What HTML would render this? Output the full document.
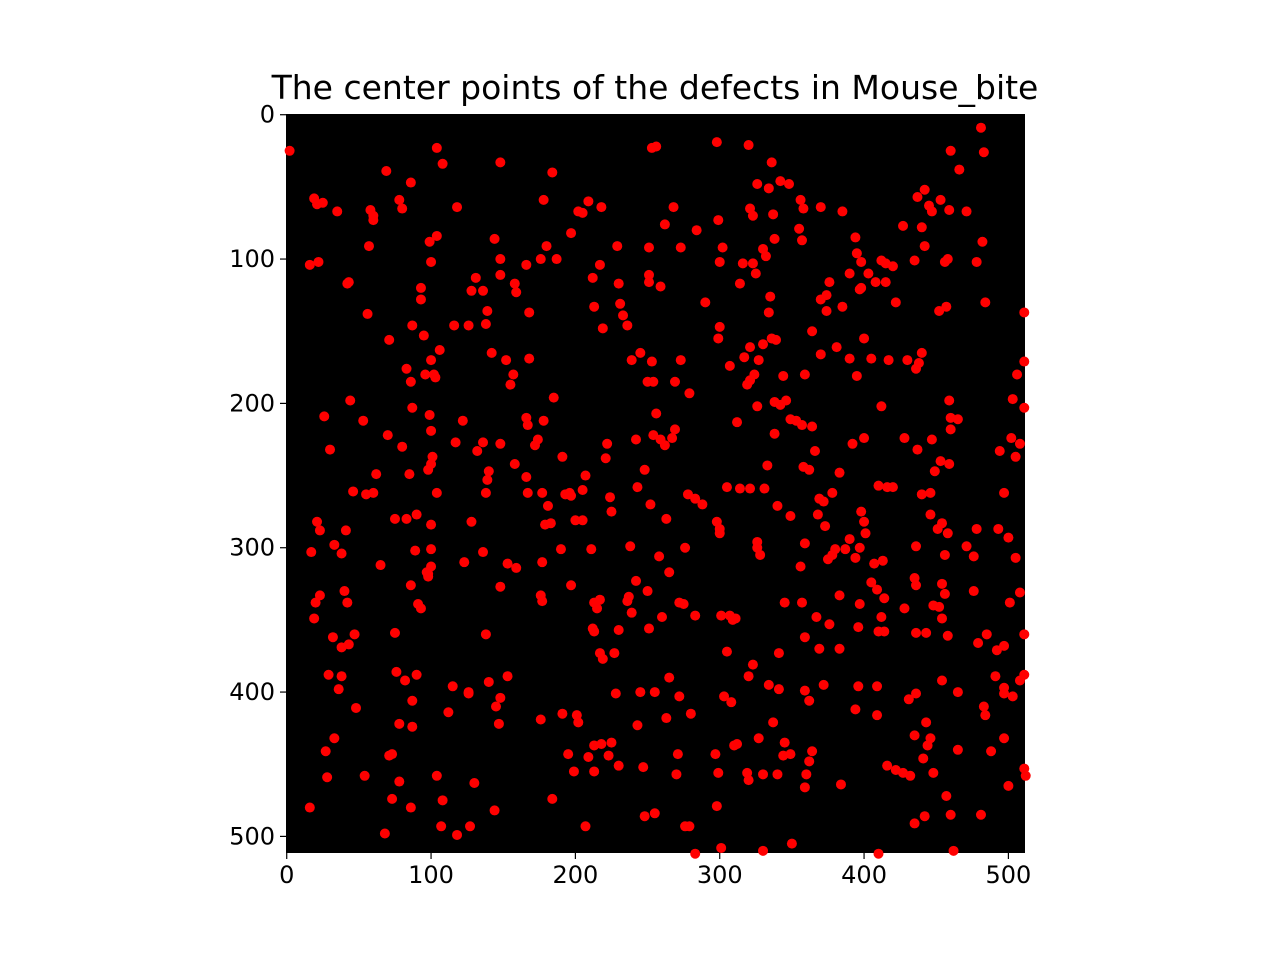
<!DOCTYPE html>
<html><head><meta charset="utf-8"><style>
html,body{margin:0;padding:0;background:#fff;width:1280px;height:960px;overflow:hidden}
text{font-family:"DejaVu Sans","Liberation Sans",sans-serif}
.title{font-size:33px}
.tick{font-size:24px}
</style></head><body>
<svg id="chart" width="1280" height="960" xmlns="http://www.w3.org/2000/svg">
<text class="title" x="655" y="99" text-anchor="middle">The center points of the defects in Mouse_bite</text>
<rect x="286" y="114" width="739" height="739" fill="#000"/>
<g id="marks"></g>
<g id="axes"></g>
</svg>
<script>
const pts = [
[2,25],[104,23],[108,34],[148,33],[184,40],[253,23],[256,22],[298,19],[320,21],[336,33],[481,9],[483,26],[460,25],[466,38],[69,39],
[19,58],[21,62],[25,61],[35,67],[58,66],[60,70],[60,73],[78,59],[80,65],[86,47],[118,64],[178,59],[202,67],[205,68],[209,60],[218,64],[268,64],[299,73],[326,48],[334,51],[342,46],[348,48],[356,59],[358,65],[370,64],[385,67],[337,69],[321,65],[323,70],[437,57],[442,52],[445,63],[447,67],[453,59],[459,66],[471,67],
[57,91],[16,104],[22,102],[99,88],[100,102],[104,84],[144,86],[148,100],[148,111],[166,104],[176,100],[180,91],[187,100],[197,82],[229,91],[251,92],[262,76],[273,92],[284,80],[300,102],[302,92],[316,103],[323,103],[330,93],[332,98],[338,86],[355,79],[357,87],[394,85],[395,96],[398,102],[403,110],[420,105],[412,101],[415,103],[427,77],[435,101],[440,78],[442,91],[456,102],[458,100],[478,102],[482,88],
[42,117],[43,116],[93,120],[93,128],[56,138],[87,146],[95,153],[116,146],[126,146],[128,122],[131,113],[136,122],[139,136],[138,145],[159,123],[158,117],[168,137],[212,113],[213,133],[217,104],[219,148],[230,117],[231,131],[233,139],[236,146],[259,119],[251,111],[251,116],[290,130],[299,155],[300,147],[314,117],[325,110],[334,137],[335,126],[364,150],[370,128],[374,125],[376,116],[374,136],[385,133],[390,110],[397,121],[398,120],[408,116],[415,116],[422,130],[452,136],[457,133],[484,130],[511,137],
[100,170],[102,180],[106,163],[96,180],[103,182],[83,176],[71,156],[86,185],[142,165],[152,170],[155,187],[157,180],[168,169],[239,170],[245,165],[253,171],[254,185],[250,185],[273,170],[269,185],[279,193],[307,174],[317,168],[321,161],[321,184],[319,187],[324,180],[327,170],[330,159],[336,155],[339,156],[344,181],[359,180],[370,166],[381,161],[390,169],[395,181],[400,155],[405,169],[417,170],[430,170],[438,172],[440,165],[436,176],[506,180],[511,171],[459,198],[503,197],[511,203],
[44,198],[53,212],[26,209],[30,232],[70,222],[80,230],[87,203],[99,208],[100,219],[100,242],[98,246],[101,237],[117,227],[122,212],[132,233],[136,227],[138,262],[139,253],[140,247],[148,228],[158,242],[166,210],[167,215],[166,251],[174,225],[172,229],[178,212],[185,196],[177,262],[181,271],[191,237],[193,263],[196,262],[205,260],[207,250],[222,228],[221,238],[224,265],[242,225],[243,258],[248,246],[256,207],[254,222],[259,225],[262,229],[267,224],[269,218],[278,263],[283,266],[305,258],[314,259],[312,213],[321,259],[326,202],[331,259],[333,243],[338,199],[338,221],[342,201],[346,198],[349,211],[353,212],[357,215],[364,216],[366,233],[358,244],[362,246],[369,266],[372,268],[378,262],[383,248],[392,228],[400,224],[412,202],[420,258],[416,258],[428,224],[410,257],[437,232],[440,263],[446,262],[449,247],[453,240],[459,242],[460,218],[465,211],[460,210],[447,225],[494,233],[497,262],[502,224],[505,237],[508,228],
[21,282],[23,288],[17,303],[33,298],[38,304],[41,288],[46,261],[55,263],[60,262],[62,249],[75,280],[83,280],[85,249],[90,277],[89,302],[100,284],[100,301],[97,317],[98,320],[104,262],[128,282],[123,310],[136,303],[153,311],[159,314],[167,262],[177,310],[179,284],[183,283],[190,301],[197,264],[200,281],[205,281],[211,301],[225,275],[238,299],[252,270],[263,280],[258,306],[276,300],[288,270],[298,282],[300,287],[300,290],[326,296],[326,300],[328,305],[340,271],[349,278],[359,297],[356,313],[368,277],[373,285],[375,308],[378,305],[380,301],[387,301],[390,294],[394,307],[397,300],[398,275],[400,282],[401,290],[407,311],[413,309],[436,299],[446,277],[451,287],[454,283],[456,305],[458,290],[471,299],[476,306],[478,287],[493,287],[500,293],[505,307],
[20,338],[19,349],[23,333],[32,362],[38,369],[40,330],[42,338],[43,367],[47,360],[65,312],[75,359],[86,326],[91,339],[93,342],[100,313],[98,318],[138,360],[148,327],[176,333],[177,337],[197,326],[212,356],[213,338],[215,342],[213,358],[217,373],[219,377],[217,336],[227,373],[230,357],[236,337],[237,334],[239,345],[242,323],[250,330],[251,356],[260,348],[265,317],[272,338],[275,339],[283,347],[301,347],[307,347],[309,350],[311,349],[305,372],[323,381],[341,373],[345,338],[357,338],[359,362],[367,348],[369,370],[376,353],[383,333],[383,370],[397,339],[396,355],[405,324],[409,329],[410,358],[412,348],[414,335],[414,358],[428,342],[435,321],[436,326],[436,359],[443,359],[448,340],[452,341],[454,349],[454,325],[456,332],[458,361],[476,330],[479,366],[485,360],[492,371],[497,368],[501,338],[508,331],[511,360],
[29,388],[36,398],[38,389],[33,432],[48,411],[71,444],[76,386],[82,392],[78,422],[87,406],[87,424],[90,388],[112,414],[115,396],[126,401],[126,400],[140,393],[145,410],[148,404],[153,389],[147,422],[176,419],[191,415],[201,416],[202,421],[228,401],[213,437],[218,436],[225,435],[243,423],[245,400],[255,400],[265,390],[263,418],[272,403],[280,415],[303,403],[308,407],[310,437],[312,436],[320,389],[334,395],[337,421],[341,398],[345,435],[359,399],[362,406],[372,395],[396,396],[394,412],[409,396],[409,416],[431,405],[436,401],[443,421],[454,392],[465,400],[483,410],[484,416],[491,389],[497,397],[497,401],[503,403],[508,392],[511,388],
[16,480],[27,441],[28,459],[54,458],[68,498],[73,474],[73,443],[78,462],[86,480],[104,458],[108,475],[107,493],[118,499],[127,493],[130,463],[144,482],[184,474],[195,443],[199,455],[207,493],[209,445],[213,455],[223,444],[230,451],[247,452],[248,486],[255,484],[270,457],[271,443],[276,493],[279,493],[283,512],[297,443],[298,479],[299,456],[301,508],[319,456],[320,461],[327,432],[330,457],[330,510],[340,457],[344,444],[349,443],[350,505],[359,466],[360,457],[362,448],[364,441],[384,464],[410,512],[416,451],[422,454],[427,456],[432,458],[435,491],[435,430],[441,446],[442,486],[444,437],[446,432],[448,456],[457,472],[460,485],[462,510],[465,440],[481,485],[488,441],[497,432],[500,465],[511,453],[512,458]
];
const xs = pts.map(p=>p[0]);
const ys = pts.map(p=>p[1]);
const xTicks = [0,100,200,300,400,500];
const yTicks = [0,100,200,300,400,500];

const L=286, T=114, W=739, H=739, dmin=-0.5, dmax=511.5;
function sx(v){return L+(v-dmin)/(dmax-dmin)*W;}
function sy(v){return T+(v-dmin)/(dmax-dmin)*H;}
const NS="http://www.w3.org/2000/svg";
const marks=document.getElementById('marks');
for(let i=0;i<xs.length;i++){
  const c=document.createElementNS(NS,'circle');
  c.setAttribute('cx',sx(xs[i]));c.setAttribute('cy',sy(ys[i]));c.setAttribute('r',5);c.setAttribute('fill','#ff0000');
  
  
  marks.appendChild(c);
}
const axes=document.getElementById('axes');
xTicks.forEach(t=>{
  const x=sx(t);
  const l=document.createElementNS(NS,'line');
  l.setAttribute('x1',x);l.setAttribute('x2',x);l.setAttribute('y1',T+H);l.setAttribute('y2',T+H+6);l.setAttribute('stroke','#000');l.setAttribute('stroke-width',1.2);
  
  
  axes.appendChild(l);
  const tx=document.createElementNS(NS,'text');
  tx.setAttribute('x',x);tx.setAttribute('y',T+H+30);tx.setAttribute('class','tick');tx.setAttribute('text-anchor','middle');tx.textContent=t;
  
  
  axes.appendChild(tx);
});
yTicks.forEach(t=>{
  const y=sy(t);
  const l=document.createElementNS(NS,'line');
  l.setAttribute('x1',L-6);l.setAttribute('x2',L);l.setAttribute('y1',y);l.setAttribute('y2',y);l.setAttribute('stroke','#000');l.setAttribute('stroke-width',1.2);
  
  
  axes.appendChild(l);
  const tx=document.createElementNS(NS,'text');
  tx.setAttribute('x',L-11);tx.setAttribute('y',y+8);tx.setAttribute('class','tick');tx.setAttribute('text-anchor','end');tx.textContent=t;
  
  
  axes.appendChild(tx);
});
</script>
</body></html>
